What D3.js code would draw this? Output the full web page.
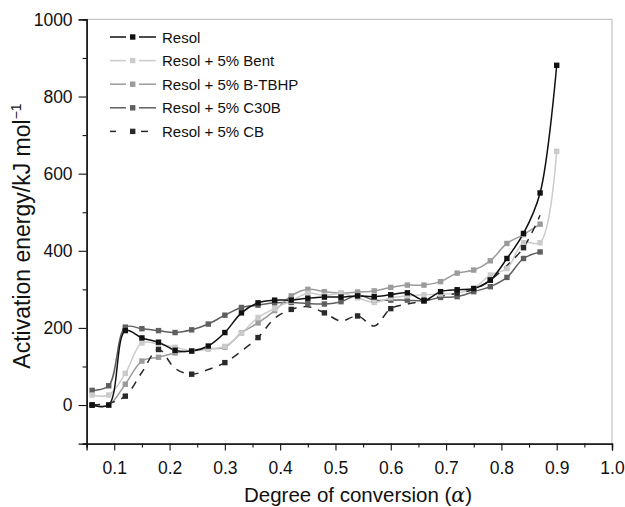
<!DOCTYPE html>
<html>
<head>
<meta charset="utf-8">
<script src="https://cdn.jsdelivr.net/npm/d3@7"></script>
<style>
  body { margin: 0; background: #fff; }
  svg { font-family: "Liberation Sans", Arial, sans-serif; }
</style>
</head>
<body>
<svg id="chart" width="625" height="507"></svg>
<script>
// degree of conversion
const alpha = [0.06, 0.09, 0.12, 0.15, 0.18, 0.21, 0.24, 0.27, 0.30, 0.33,
  0.36, 0.39, 0.42, 0.45, 0.48, 0.51, 0.54, 0.57, 0.60, 0.63,
  0.66, 0.69, 0.72, 0.75, 0.78, 0.81, 0.84, 0.87, 0.90]

// activation energy / kJ mol-1
const resol = [0, 0, 193, 174, 163, 142, 140, 153, 188, 239,
  265, 272, 272, 277, 280, 280, 283, 281, 286, 291,
  272, 294, 299, 302, 324, 380, 445, 550, 881]
const bent = [26, 26, 82, 161, 158, 150, 141, 145, 152, 186,
  227, 250, 270, 290, 284, 289, 278, 266, 278, 283,
  286, 288, 290, 303, 337, 354, 421, 421, 658]
const bTbhp = [0, 0, 54, 114, 124, 135, 141, 146, 150, 187,
  213, 245, 283, 300, 294, 290, 293, 296, 305, 311,
  311, 320, 342, 350, 374, 419, 442, 469]
const c30b = [38, 50, 202, 198, 193, 188, 195, 210, 233, 253,
  259, 265, 266, 263, 262, 268, 285, 272, 272, 272,
  270, 279, 281, 294, 307, 331, 380, 397]
const cb = [0, 5, 23, 85, 144, 95, 80, 92, 110, 140,
  175, 225, 248, 255, 239, 218, 231, 205, 250, 262,
  270, 282, 290, 300, 324, 362, 408, 492]

const seriesNames = ['Resol', 'Resol + 5% Bent', 'Resol + 5% B-TBHP', 'Resol + 5% C30B', 'Resol + 5% CB']
const seriesValues = [resol, bent, bTbhp, c30b, cb]

const xMajor = [0.1, 0.2, 0.3, 0.4, 0.5, 0.6, 0.7, 0.8, 0.9, 1.0]
const xMinor = [0.05, 0.15, 0.25, 0.35, 0.45, 0.55, 0.65, 0.75, 0.85, 0.95]
const yMajor = [0, 200, 400, 600, 800, 1000]
const yMinor = [-100, 100, 300, 500, 700, 900]

// look of each series
const colors = ['#111111', '#cbcbcb', '#9b9b9b', '#5f5f5f', '#2a2a2a']
const dashes = [null, null, null, null, '8,7']
const markEvery = [1, 1, 1, 1, 2]
const drawOrder = [3, 2, 1, 4, 0]

let svg = d3.select('#chart')
let x = d3.scaleLinear().domain([0.05, 1.0]).range([86.6, 612])
let y = d3.scaleLinear().domain([-100, 1000]).range([443.6, 19.4])

// light frame on top and right
svg.append('path')
  .attr('d', `M${x(0.05)},${y(1000)}H${x(1.0)}V${y(-100)}`)
  .attr('fill', 'none')
  .attr('stroke', '#c4c4c4')
  .attr('stroke-width', 1.2)

let styleAxis = g => {
  g.select('.domain').attr('stroke', '#111').attr('stroke-width', 1.3)
  g.selectAll('.tick line').attr('stroke', '#111').attr('stroke-width', 1.1)
  g.selectAll('.tick text').attr('fill', '#111').style('font-size', '17.5px')
}

svg.append('g')
  .attr('transform', `translate(0,${y(-100)})`)
  .call(d3.axisBottom(x).tickValues(xMinor).tickSize(4).tickFormat(''))
  .call(styleAxis)
svg.append('g')
  .attr('transform', `translate(0,${y(-100)})`)
  .call(d3.axisBottom(x).tickValues(xMajor).tickSize(7).tickPadding(11).tickFormat(d3.format('.1f')))
  .call(styleAxis)
svg.append('g')
  .attr('transform', `translate(${x(0.05)},0)`)
  .call(d3.axisLeft(y).tickValues(yMinor).tickSize(4).tickFormat(''))
  .call(styleAxis)
svg.append('g')
  .attr('transform', `translate(${x(0.05)},0)`)
  .call(d3.axisLeft(y).tickValues(yMajor).tickSize(8).tickPadding(6).tickFormat(d3.format('d')))
  .call(styleAxis)

// axis titles
let xTitle = svg.append('text')
  .attr('x', 358)
  .attr('y', 502)
  .attr('text-anchor', 'middle')
  .style('font-size', '20.5px')
  .attr('fill', '#111')
xTitle.append('tspan').text('Degree of conversion (')
xTitle.append('tspan').style('font-style', 'italic').style('font-family', '"DejaVu Serif", serif').text('α')
xTitle.append('tspan').text(')')

let yTitle = svg.append('text')
  .attr('transform', 'translate(30,236) rotate(-90)')
  .attr('text-anchor', 'middle')
  .style('font-size', '23px')
  .attr('fill', '#111')
yTitle.append('tspan').text('Activation energy/kJ mol')
yTitle.append('tspan').attr('dy', -9).style('font-size', '14px').text('−1')

// curves
let line = d3.line()
  .x(d => x(d[0]))
  .y(d => y(d[1]))
  .curve(d3.curveCatmullRom.alpha(0.5))

let plot = svg.append('g')
drawOrder.forEach(i => {
  let pts = seriesValues[i].map((v, k) => [alpha[k], v])
  plot.append('path')
    .datum(pts)
    .attr('d', line)
    .attr('fill', 'none')
    .attr('stroke', colors[i])
    .attr('stroke-width', 1.5)
    .attr('stroke-dasharray', dashes[i])
})
drawOrder.forEach(i => {
  let pts = seriesValues[i].map((v, k) => [alpha[k], v])
    .filter((d, k) => k % markEvery[i] === 0)
  plot.selectAll(null)
    .data(pts)
    .enter().append('rect')
    .attr('x', d => x(d[0]) - 2.7)
    .attr('y', d => y(d[1]) - 2.7)
    .attr('width', 5.4)
    .attr('height', 5.4)
    .attr('fill', colors[i])
})

// legend
let legend = svg.append('g')
seriesNames.forEach((name, i) => {
  let ly = 37 + i * 23.6
  let segs = dashes[i] ? [[110, 116], [141, 148]] : [[110, 126], [139, 156]]
  segs.forEach(s => {
    legend.append('line')
      .attr('x1', s[0]).attr('x2', s[1])
      .attr('y1', ly).attr('y2', ly)
      .attr('stroke', colors[i])
      .attr('stroke-width', 1.5)
  })
  legend.append('rect')
    .attr('x', 130).attr('y', ly - 2.7)
    .attr('width', 5.4).attr('height', 5.4)
    .attr('fill', colors[i])
  legend.append('text')
    .attr('x', 162)
    .attr('y', ly + 5.5)
    .style('font-size', '15px')
    .attr('fill', '#111')
    .text(name)
})
</script>
</body>
</html>
